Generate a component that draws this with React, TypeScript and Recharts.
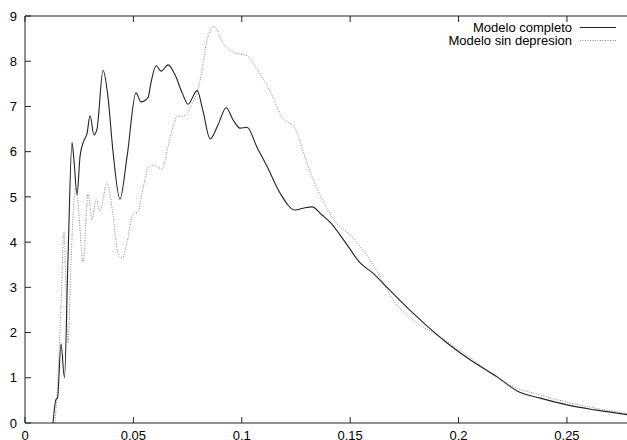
import React from 'react';
import { LineChart, Line, XAxis, YAxis, Legend } from 'recharts';

// Modelo completo (solid)
const completoX = [0.0129, 0.0143, 0.015, 0.0166, 0.0182, 0.0198, 0.0217, 0.0226, 0.024, 0.0254, 0.0272, 0.0286, 0.03, 0.0318, 0.0332, 0.036, 0.0383, 0.0406, 0.0438, 0.0471, 0.0512, 0.0535, 0.0568, 0.058, 0.0605, 0.0628, 0.066, 0.0692, 0.0725, 0.0752, 0.0794, 0.0821, 0.0854, 0.0891, 0.0928, 0.096, 0.0992, 0.1024, 0.107, 0.1117, 0.1177, 0.1246, 0.1283, 0.1324, 0.137, 0.1407, 0.1477, 0.1546, 0.1606, 0.167, 0.179, 0.1947, 0.2053, 0.2178, 0.227, 0.2377, 0.2501, 0.263, 0.28];
const completoY = [0, 0.52, 0.55, 1.75, 1.0, 3.6, 6.2, 5.8, 5.05, 5.9, 6.25, 6.4, 6.8, 6.37, 6.5, 7.8, 7.2, 6.0, 4.95, 5.9, 7.3, 7.1, 7.2, 7.5, 7.9, 7.78, 7.92, 7.7, 7.3, 7.05, 7.35, 6.9, 6.28, 6.6, 6.97, 6.7, 6.52, 6.54, 6.1, 5.67, 5.08, 4.71, 4.75, 4.78, 4.6, 4.44, 4.0, 3.54, 3.31, 3.0, 2.43, 1.77, 1.4, 1.02, 0.71, 0.55, 0.4, 0.29, 0.17];

// Modelo sin depresion (dotted)
const sinDepX = [0.0138, 0.0152, 0.0166, 0.018, 0.0189, 0.0198, 0.0212, 0.0224, 0.0235, 0.0249, 0.0268, 0.0291, 0.0309, 0.0328, 0.0346, 0.0378, 0.0406, 0.0429, 0.0448, 0.0471, 0.0498, 0.0521, 0.0545, 0.0568, 0.0591, 0.0632, 0.0669, 0.0701, 0.0738, 0.0761, 0.0808, 0.084, 0.0872, 0.0914, 0.096, 0.1024, 0.1066, 0.1131, 0.1191, 0.1237, 0.1315, 0.1375, 0.144, 0.15, 0.1546, 0.1592, 0.1638, 0.1698, 0.179, 0.1915, 0.2053, 0.2178, 0.227, 0.2377, 0.2501, 0.263, 0.28];
const sinDepY = [0, 1.0, 2.6, 4.22, 3.0, 1.77, 3.5, 4.8, 5.2, 4.6, 3.54, 5.08, 4.5, 4.95, 4.68, 5.31, 4.6, 3.75, 3.65, 4.0, 4.62, 4.67, 5.2, 5.66, 5.7, 5.62, 6.3, 6.77, 6.8, 6.97, 7.58, 8.47, 8.77, 8.4, 8.2, 8.12, 7.85, 7.33, 6.72, 6.57, 5.56, 4.9, 4.4, 4.16, 3.9, 3.6, 3.23, 2.72, 2.28, 1.9, 1.45, 1.0, 0.77, 0.62, 0.46, 0.33, 0.19];

const xTicks = [0, 0.05, 0.1, 0.15, 0.2, 0.25];
const yTicks = [0, 1, 2, 3, 4, 5, 6, 7, 8, 9];

const completo = completoX.map((x, i) => ({ x, y: completoY[i] }));
const sinDep = sinDepX.map((x, i) => ({ x, y: sinDepY[i] }));

const FONT = '"Liberation Sans", Arial, Helvetica, sans-serif';
const tickStyle = { fill: '#000', fontSize: 13, fontFamily: FONT };

const LegendBox = () => (
  <div style={{ width: 640, fontFamily: FONT, fontSize: 13, color: '#000' }}>
    {[
      { name: 'Modelo completo', dash: undefined, color: '#222' },
      { name: 'Modelo sin depresion', dash: '1 1.5', color: '#888' },
    ].map(r => (
      <div key={r.name} style={{ display: 'flex', justifyContent: 'flex-end', alignItems: 'center', height: 13, lineHeight: '13px', paddingRight: 24 }}>
        <span style={{ marginRight: 8 }}>{r.name}</span>
        <svg width={36} height={13}>
          <line x1={0} x2={36} y1={6.5} y2={6.5} stroke={r.color} strokeWidth={1} strokeDasharray={r.dash} />
        </svg>
      </div>
    ))}
  </div>
);

export default function App() {
  return (
    <div style={{ position: 'fixed', top: 0, left: 0, width: 627, height: 440, overflow: 'hidden', background: '#fff' }}>
      <LineChart width={640} height={440} margin={{ top: 15, right: 7, left: 0, bottom: 0 }}>
        <XAxis
          xAxisId="b"
          type="number"
          dataKey="x"
          domain={[0, 0.28]}
          ticks={xTicks}
          allowDataOverflow
          height={17}
          tickSize={-6}
          tickMargin={14}
          tick={tickStyle}
          tickFormatter={(v: number) => String(v)}
          stroke="#222"
        />
        <XAxis
          xAxisId="t"
          orientation="top"
          type="number"
          dataKey="x"
          domain={[0, 0.28]}
          ticks={xTicks}
          allowDataOverflow
          height={1}
          tickSize={-6}
          tickFormatter={() => ''}
          stroke="#222"
        />
        <YAxis
          yAxisId="l"
          type="number"
          domain={[0, 9]}
          ticks={yTicks}
          width={25}
          tickSize={-6}
          tickMargin={14}
          tick={tickStyle}
          stroke="#222"
        />
        <YAxis
          yAxisId="r"
          orientation="right"
          type="number"
          domain={[0, 9]}
          ticks={yTicks}
          width={1}
          tickSize={-6}
          tickFormatter={() => ''}
          stroke="#222"
        />
        <Legend
          layout="horizontal"
          verticalAlign="middle"
          align="center"
          wrapperStyle={{ top: 21, left: 0, width: 640 }}
          content={() => <LegendBox />}
        />
        <Line
          xAxisId="b"
          yAxisId="l"
          data={sinDep}
          dataKey="y"
          name="Modelo sin depresion"
          type="monotone"
          stroke="#888"
          strokeWidth={1}
          strokeDasharray="1 1.5"
          dot={false}
          isAnimationActive={false}
        />
        <Line
          xAxisId="b"
          yAxisId="l"
          data={completo}
          dataKey="y"
          name="Modelo completo"
          type="monotone"
          stroke="#222"
          strokeWidth={1.1}
          dot={false}
          isAnimationActive={false}
        />
      </LineChart>
    </div>
  );
}
